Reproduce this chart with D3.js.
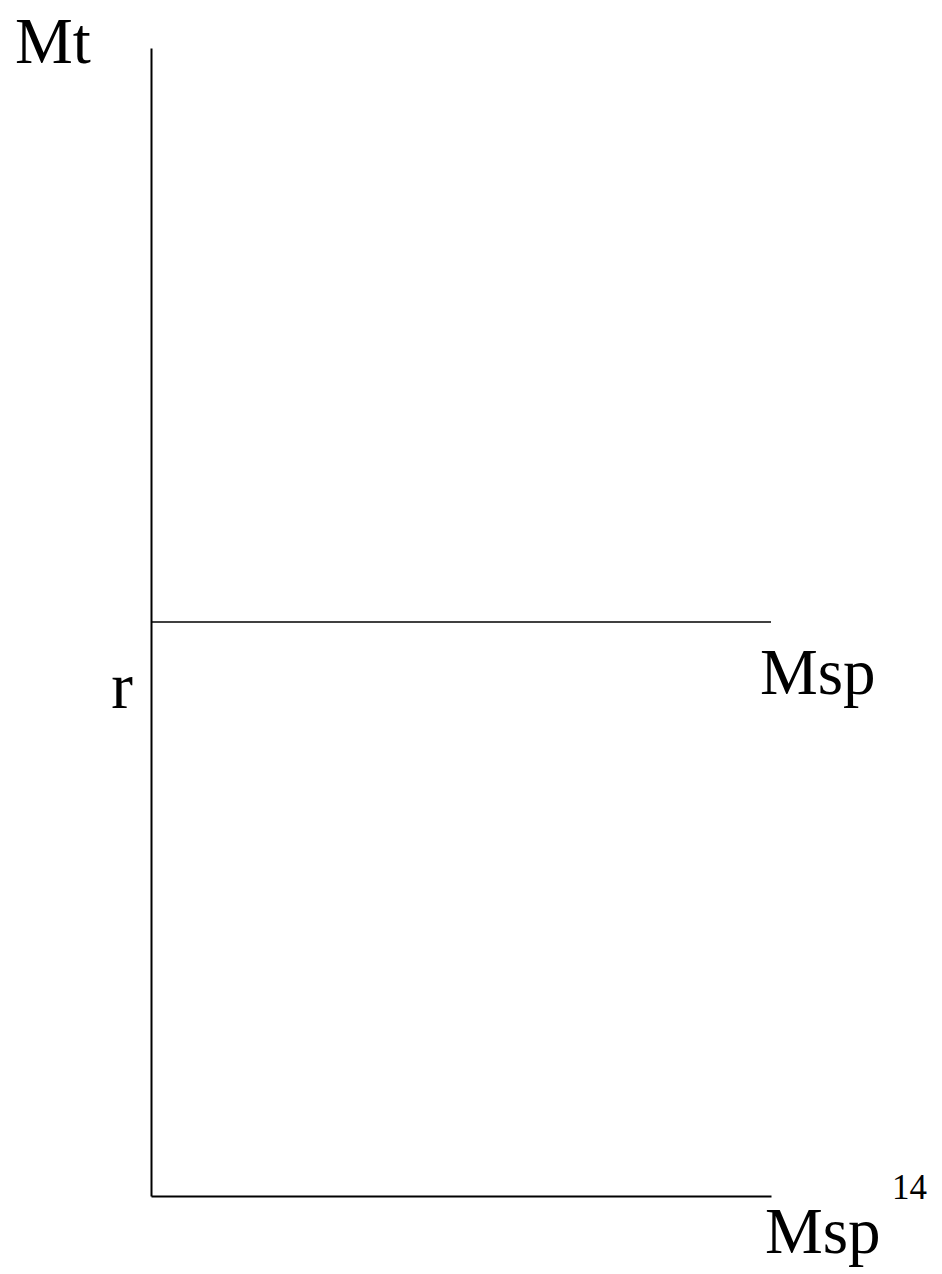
<!DOCTYPE html>
<html>
<head>
<meta charset="utf-8">
<script src="https://cdn.jsdelivr.net/npm/d3@7"></script>
<style>
  body { margin: 0; background: #fff; }
  svg { display: block; }
</style>
</head>
<body>
<div id="chart"></div>
<script>
let width = 942,
    height = 1274,
    margin = ({ top: 48, right: 171, bottom: 78, left: 151 });

const serif = "'Liberation Serif', 'Times New Roman', Times, serif";

// data: one horizontal supply line at level r
const yLabel = "Mt";
const xLabel = "Msp";
const levels = [0.5];          // height of Msp line, share of axis
const levelLabels = ["r"];
const lineLabels = ["Msp"];
const pageNumber = "14";

const svg = d3.select("#chart")
    .append("svg")
    .attr("width", width)
    .attr("height", height)
    .attr("viewBox", [0, 0, width, height])
    .style("font-family", serif);

let x = d3.scaleLinear()
    .domain([0, 1])
    .range([margin.left, width - margin.right]);

let y = d3.scaleLinear()
    .domain([0, 1])
    .range([height - margin.bottom, margin.top]);

// axes (plain lines, no ticks)
svg.append("g")
    .attr("transform", `translate(${margin.left},0)`)
    .call(d3.axisLeft(y).ticks(0).tickSize(0))
    .call(g => g.select(".domain").attr("stroke", "#000").attr("stroke-width", 2));

svg.append("g")
    .attr("transform", `translate(0,${height - margin.bottom})`)
    .call(d3.axisBottom(x).ticks(0).tickSize(0))
    .call(g => g.select(".domain").attr("stroke", "#000").attr("stroke-width", 2));

// horizontal Msp line
svg.append("g")
    .selectAll("line")
    .data(levels)
    .join("line")
    .attr("x1", x(0))
    .attr("x2", x(1))
    .attr("y1", d => y(d))
    .attr("y2", d => y(d))
    .attr("stroke", "#000")
    .attr("stroke-width", 1.5);

// r label next to the axis
svg.append("g")
    .selectAll("text")
    .data(levels)
    .join("text")
    .attr("font-family", serif)
    .attr("x", x(0) - 18)
    .attr("y", d => y(d) + 86)
    .attr("text-anchor", "end")
    .attr("font-size", 65)
    .text((d, i) => levelLabels[i]);

// Msp label under the line
svg.append("g")
    .selectAll("text")
    .data(levels)
    .join("text")
    .attr("font-family", serif)
    .attr("x", x(1) - 11)
    .attr("y", d => y(d) + 72)
    .attr("font-size", 65)
    .text((d, i) => lineLabels[i]);

// axis titles
svg.append("text")
    .attr("font-family", serif)
    .attr("x", 15)
    .attr("y", 63)
    .attr("font-size", 65)
    .text(yLabel);

svg.append("text")
    .attr("font-family", serif)
    .attr("x", x(1) - 6)
    .attr("y", y(0) + 57)
    .attr("font-size", 65)
    .text(xLabel);

// page number
svg.append("text")
    .attr("font-family", serif)
    .attr("x", 892)
    .attr("y", 1199)
    .attr("font-size", 35)
    .text(pageNumber);
</script>
</body>
</html>
